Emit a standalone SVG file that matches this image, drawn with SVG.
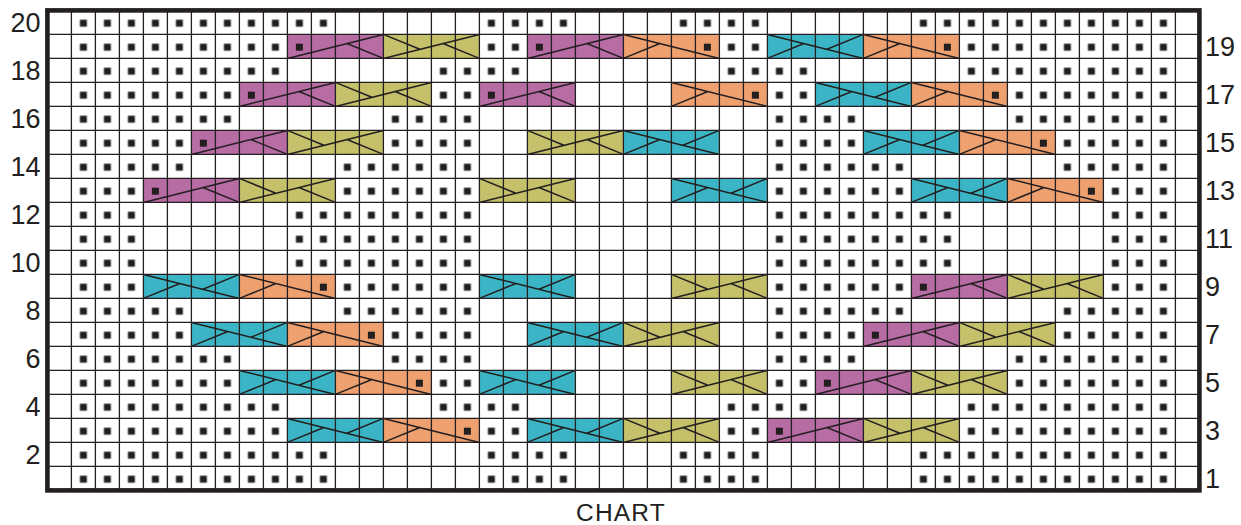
<svg xmlns="http://www.w3.org/2000/svg" xmlns:xlink="http://www.w3.org/1999/xlink" width="1241" height="525" viewBox="0 0 1241 525">
<style>
.lbl{font-family:"Liberation Sans",Arial,sans-serif;font-size:27px;fill:#231f20}
.cap{font-family:"Liberation Sans",Arial,sans-serif;font-size:24.5px;fill:#231f20;letter-spacing:1.2px}
.cl{fill:none;stroke:#231f20;stroke-width:1.5;stroke-linecap:round}
.grid{fill:none;stroke:#231f20;stroke-width:1.3}
.dot{fill:#231f20}
.pu{fill:#b86ca4}.ol{fill:#c5c16a}.or{fill:#eea06e}.te{fill:#3bb5c5}
</style>
<defs>
<pattern id="dots" patternUnits="userSpaceOnUse" x="0" y="0" width="24" height="24">
<rect class="dot" x="8.5" y="9.3" width="7" height="7"/>
</pattern>
<g id="purple"><rect class="pu" width="96" height="24"/><path class="cl" d="M0 24L96 0M59.52 9.12L96 24"/><rect class="dot" x="8.5" y="9.3" width="7" height="7"/></g>
<g id="olive"><rect class="ol" width="96" height="24"/><path class="cl" d="M0 24L96 0M0 0L36.48 14.88M59.52 9.12L96 24"/></g>
<g id="teal"><rect class="te" width="96" height="24"/><path class="cl" d="M0 0L96 24M0 24L36.48 9.12M59.52 14.88L96 0"/></g>
<g id="orange"><rect class="or" width="96" height="24"/><path class="cl" d="M0 0L96 24M0 24L36.48 9.12"/><rect class="dot" x="80.5" y="9.3" width="7" height="7"/></g>
</defs>
<rect width="1241" height="525" fill="#ffffff"/>
<g id="chart" transform="translate(47.4,10.4)">
<g id="cables">
<use href="#purple" x="240" y="24"/><use href="#olive" x="336" y="24"/><use href="#purple" x="480" y="24"/><use href="#orange" x="576" y="24"/><use href="#teal" x="720" y="24"/><use href="#orange" x="816" y="24"/>
<use href="#purple" x="192" y="72"/><use href="#olive" x="288" y="72"/><use href="#purple" x="432" y="72"/><use href="#orange" x="624" y="72"/><use href="#teal" x="768" y="72"/><use href="#orange" x="864" y="72"/>
<use href="#purple" x="144" y="120"/><use href="#olive" x="240" y="120"/><use href="#olive" x="480" y="120"/><use href="#teal" x="576" y="120"/><use href="#teal" x="816" y="120"/><use href="#orange" x="912" y="120"/>
<use href="#purple" x="96" y="168"/><use href="#olive" x="192" y="168"/><use href="#olive" x="432" y="168"/><use href="#teal" x="624" y="168"/><use href="#teal" x="864" y="168"/><use href="#orange" x="960" y="168"/>
<use href="#teal" x="96" y="264"/><use href="#orange" x="192" y="264"/><use href="#teal" x="432" y="264"/><use href="#olive" x="624" y="264"/><use href="#purple" x="864" y="264"/><use href="#olive" x="960" y="264"/>
<use href="#teal" x="144" y="312"/><use href="#orange" x="240" y="312"/><use href="#teal" x="480" y="312"/><use href="#olive" x="576" y="312"/><use href="#purple" x="816" y="312"/><use href="#olive" x="912" y="312"/>
<use href="#teal" x="192" y="360"/><use href="#orange" x="288" y="360"/><use href="#teal" x="432" y="360"/><use href="#olive" x="624" y="360"/><use href="#purple" x="768" y="360"/><use href="#olive" x="864" y="360"/>
<use href="#teal" x="240" y="408"/><use href="#orange" x="336" y="408"/><use href="#teal" x="480" y="408"/><use href="#olive" x="576" y="408"/><use href="#purple" x="720" y="408"/><use href="#olive" x="816" y="408"/>
</g>
<g id="purl-dots" fill="url(#dots)">
<rect x="24" y="0" width="264" height="24"/><rect x="432" y="0" width="96" height="24"/><rect x="624" y="0" width="96" height="24"/><rect x="864" y="0" width="264" height="24"/>
<rect x="24" y="24" width="216" height="24"/><rect x="432" y="24" width="48" height="24"/><rect x="672" y="24" width="48" height="24"/><rect x="912" y="24" width="216" height="24"/>
<rect x="24" y="48" width="216" height="24"/><rect x="384" y="48" width="96" height="24"/><rect x="672" y="48" width="96" height="24"/><rect x="912" y="48" width="216" height="24"/>
<rect x="24" y="72" width="168" height="24"/><rect x="384" y="72" width="48" height="24"/><rect x="720" y="72" width="48" height="24"/><rect x="960" y="72" width="168" height="24"/>
<rect x="24" y="96" width="168" height="24"/><rect x="336" y="96" width="96" height="24"/><rect x="720" y="96" width="96" height="24"/><rect x="960" y="96" width="168" height="24"/>
<rect x="24" y="120" width="120" height="24"/><rect x="336" y="120" width="96" height="24"/><rect x="720" y="120" width="96" height="24"/><rect x="1008" y="120" width="120" height="24"/>
<rect x="24" y="144" width="120" height="24"/><rect x="288" y="144" width="144" height="24"/><rect x="720" y="144" width="144" height="24"/><rect x="1008" y="144" width="120" height="24"/>
<rect x="24" y="168" width="72" height="24"/><rect x="288" y="168" width="144" height="24"/><rect x="720" y="168" width="144" height="24"/><rect x="1056" y="168" width="72" height="24"/>
<rect x="24" y="192" width="72" height="72"/><rect x="240" y="192" width="192" height="72"/><rect x="720" y="192" width="192" height="72"/><rect x="1056" y="192" width="72" height="72"/>
<rect x="24" y="264" width="72" height="24"/><rect x="288" y="264" width="144" height="24"/><rect x="720" y="264" width="144" height="24"/><rect x="1056" y="264" width="72" height="24"/>
<rect x="24" y="288" width="120" height="24"/><rect x="288" y="288" width="144" height="24"/><rect x="720" y="288" width="144" height="24"/><rect x="1008" y="288" width="120" height="24"/>
<rect x="24" y="312" width="120" height="24"/><rect x="336" y="312" width="96" height="24"/><rect x="720" y="312" width="96" height="24"/><rect x="1008" y="312" width="120" height="24"/>
<rect x="24" y="336" width="168" height="24"/><rect x="336" y="336" width="96" height="24"/><rect x="720" y="336" width="96" height="24"/><rect x="960" y="336" width="168" height="24"/>
<rect x="24" y="360" width="168" height="24"/><rect x="384" y="360" width="48" height="24"/><rect x="720" y="360" width="48" height="24"/><rect x="960" y="360" width="168" height="24"/>
<rect x="24" y="384" width="216" height="24"/><rect x="384" y="384" width="96" height="24"/><rect x="672" y="384" width="96" height="24"/><rect x="912" y="384" width="216" height="24"/>
<rect x="24" y="408" width="216" height="24"/><rect x="432" y="408" width="48" height="24"/><rect x="672" y="408" width="48" height="24"/><rect x="912" y="408" width="216" height="24"/>
<rect x="24" y="432" width="264" height="48"/><rect x="432" y="432" width="96" height="48"/><rect x="624" y="432" width="96" height="48"/><rect x="864" y="432" width="264" height="48"/>
</g>
<path id="grid" class="grid" d="M24 0V480M48 0V480M72 0V480M96 0V480M120 0V480M144 0V480M168 0V480M192 0V480M216 0V480M240 0V480M264 0V480M288 0V480M312 0V480M336 0V480M360 0V480M384 0V480M408 0V480M432 0V480M456 0V480M480 0V480M504 0V480M528 0V480M552 0V480M576 0V480M600 0V480M624 0V480M648 0V480M672 0V480M696 0V480M720 0V480M744 0V480M768 0V480M792 0V480M816 0V480M840 0V480M864 0V480M888 0V480M912 0V480M936 0V480M960 0V480M984 0V480M1008 0V480M1032 0V480M1056 0V480M1080 0V480M1104 0V480M1128 0V480M0 24H1152M0 48H1152M0 72H1152M0 96H1152M0 120H1152M0 144H1152M0 168H1152M0 192H1152M0 216H1152M0 240H1152M0 264H1152M0 288H1152M0 312H1152M0 336H1152M0 360H1152M0 384H1152M0 408H1152M0 432H1152M0 456H1152"/>
<rect id="border" x="0" y="0" width="1152" height="480" fill="none" stroke="#231f20" stroke-width="4.6"/>
</g>
<g id="row-labels-left" class="lbl" text-anchor="end">
<text x="40.5" y="32">20</text><text x="40.5" y="80">18</text><text x="40.5" y="128">16</text><text x="40.5" y="176">14</text><text x="40.5" y="224">12</text><text x="40.5" y="272">10</text><text x="40.5" y="320">8</text><text x="40.5" y="368">6</text><text x="40.5" y="416">4</text><text x="40.5" y="464">2</text>
</g>
<g id="row-labels-right" class="lbl">
<text x="1205" y="56">19</text><text x="1205" y="104">17</text><text x="1205" y="152">15</text><text x="1205" y="200">13</text><text x="1205" y="248">11</text><text x="1205" y="296">9</text><text x="1205" y="344">7</text><text x="1205" y="392">5</text><text x="1205" y="440">3</text><text x="1205" y="488">1</text>
</g>
<text id="caption" class="cap" x="621" y="520.5" text-anchor="middle">CHART</text>
</svg>
